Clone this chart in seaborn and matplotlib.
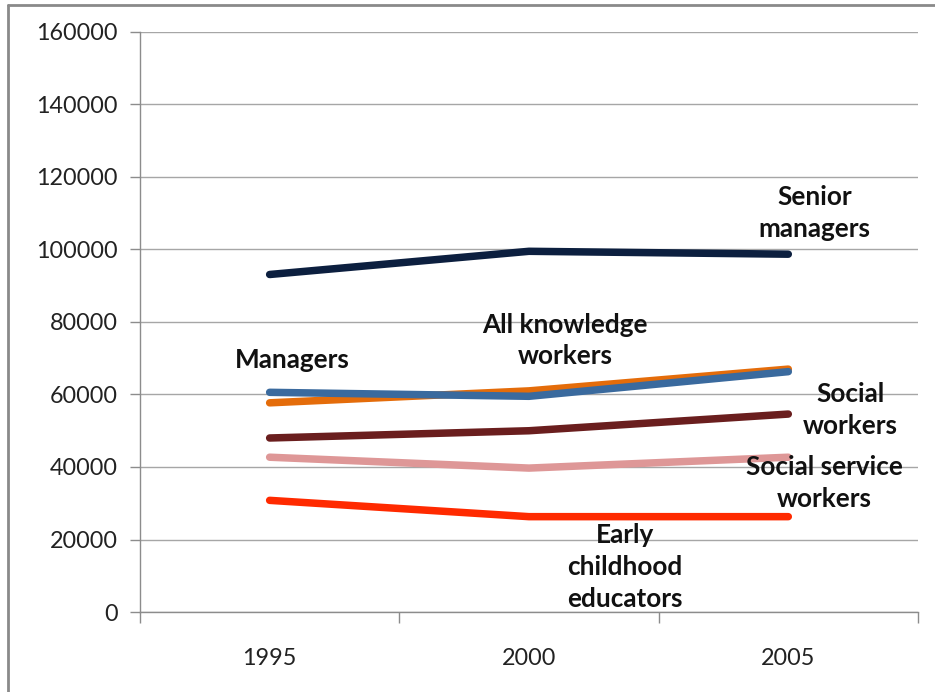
import matplotlib
matplotlib.use("Agg")
import matplotlib.pyplot as plt
import seaborn as sns
import pandas as pd
from matplotlib.lines import Line2D

# Average earnings by occupation group
years = ["1995", "2000", "2005"]
senior_managers = [93100, 99500, 98700]
managers = [60600, 59500, 66300]
all_knowledge_workers = [57700, 61000, 67000]
social_workers = [48000, 50000, 54600]
social_service_workers = [42700, 39700, 42700]
early_childhood_educators = [30800, 26300, 26300]

series_names = ["Senior managers", "All knowledge workers", "Managers",
                "Social workers", "Social service workers",
                "Early childhood educators"]
series_values = [senior_managers, all_knowledge_workers, managers,
                 social_workers, social_service_workers,
                 early_childhood_educators]
colors = ["#0c1f3f", "#e46c0a", "#3a6a9e", "#6a1e1e", "#de9797", "#ff2a00"]

y_ticks = [0, 20000, 40000, 60000, 80000, 100000, 120000, 140000, 160000]

rows = []
for name, vals in zip(series_names, series_values):
    for i, (yr, v) in enumerate(zip(years, vals)):
        rows.append({"pos": i, "year": yr, "value": v, "series": name})
df = pd.DataFrame(rows)

sns.set_style("white")
plt.rcParams["font.family"] = ["Lato", "DejaVu Sans"]

fig = plt.figure(figsize=(9.35, 6.92), dpi=100)
ax = fig.add_axes([0.1497, 0.1156, 0.8321, 0.8382])

sns.lineplot(data=df, x="pos", y="value", hue="series", hue_order=series_names,
             palette=colors, linewidth=5.4, legend=False, ax=ax, sort=False,
             zorder=3)
for ln in ax.get_lines():
    ln.set_solid_capstyle("round")
    ln.set_solid_joinstyle("round")

ax.set_xlim(-0.5, 2.5)
ax.set_ylim(0, 160000)
ax.set_yticks(y_ticks)
ax.set_yticklabels([str(t) for t in y_ticks])
ax.set_xticks([0, 1, 2])
ax.set_xticklabels(years)
ax.set_xticks([-0.5, 0.5, 1.5, 2.5], minor=True)
ax.tick_params(axis="x", which="major", length=0, pad=26, labelsize=16.8,
               labelcolor="#222222")
ax.tick_params(axis="x", which="minor", length=8, width=1.0, color="#8c8c8c",
               direction="out", bottom=True)
ax.tick_params(axis="y", length=7, width=1.0, color="#8c8c8c", direction="out",
               left=True, pad=9, labelsize=16.8, labelcolor="#222222")
ax.set_xlabel("")
ax.set_ylabel("")

ax.yaxis.grid(True, color="#a6a6a6", linewidth=1.0, zorder=0)
ax.xaxis.grid(False)
ax.set_axisbelow(True)
for side in ["top", "right"]:
    ax.spines[side].set_visible(False)
for side in ["left", "bottom"]:
    ax.spines[side].set_color("#8c8c8c")
    ax.spines[side].set_linewidth(1.0)

# Series labels
labels = [
    ("Senior\nmanagers", 2.10, 110000),
    ("All knowledge\nworkers", 1.14, 74900),
    ("Managers", 0.086, 69600),
    ("Social\nworkers", 2.24, 55800),
    ("Social service\nworkers", 2.14, 35600),
    ("Early\nchildhood\neducators", 1.37, 12400),
]
for text, x, y in labels:
    ax.text(x, y, text, ha="center", va="center", fontsize=18.8,
            fontweight="bold", color="#111111", linespacing=1.38, zorder=4)

# Outer chart frame (top and left edges)
fig.add_artist(Line2D([8 / 935, 1.0], [1 - 5 / 692, 1 - 5 / 692],
                      transform=fig.transFigure, color="#8a8a8a", linewidth=2))
fig.add_artist(Line2D([8 / 935, 8 / 935], [0.0, 1 - 5 / 692],
                      transform=fig.transFigure, color="#8a8a8a", linewidth=2))

fig.savefig("out.png", dpi=100)
